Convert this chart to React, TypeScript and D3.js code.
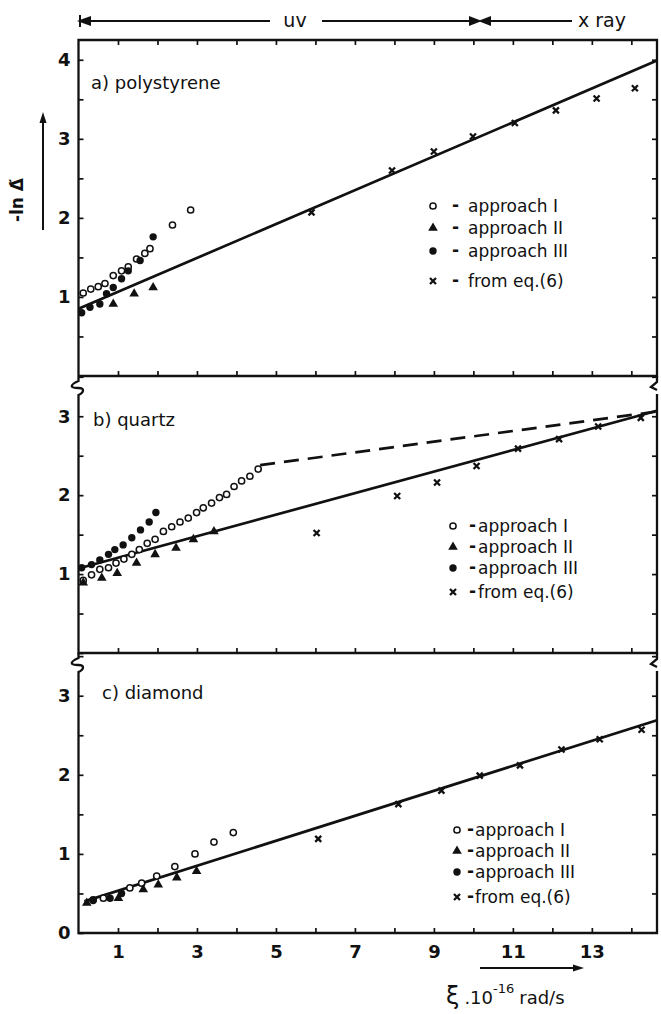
import React, { useEffect, useRef } from 'react';
import * as d3 from 'd3';

// values, pairs of [xi (10^16 rad/s), -ln delta]
const polyApproach1 = [[0.12, 1.05], [0.31, 1.1], [0.5, 1.13], [0.67, 1.17], [0.88, 1.27], [1.09, 1.33], [1.26, 1.38], [1.47, 1.48], [1.68, 1.55], [1.81, 1.61], [2.38, 1.91], [2.84, 2.1]];
const polyApproach2 = [[0.88, 0.91], [1.41, 1.04], [1.89, 1.12]];
const polyApproach3 = [[0.08, 0.8], [0.29, 0.87], [0.54, 0.91], [0.71, 1.04], [0.88, 1.12], [1.09, 1.23], [1.26, 1.33], [1.56, 1.46], [1.89, 1.76]];
const polyEq6 = [[5.9, 2.07], [7.94, 2.6], [9.0, 2.84], [9.99, 3.03], [11.05, 3.2], [12.09, 3.36], [13.12, 3.51], [14.09, 3.64]];
const polyFit = [[0, 0.85], [14.65, 3.99]];

const quartzApproach1 = [[0.12, 0.92], [0.33, 0.99], [0.54, 1.06], [0.76, 1.08], [0.95, 1.14], [1.15, 1.19], [1.35, 1.25], [1.54, 1.31], [1.74, 1.39], [1.94, 1.44], [2.15, 1.54], [2.36, 1.6], [2.57, 1.66], [2.78, 1.71], [2.99, 1.78], [3.16, 1.84], [3.37, 1.9], [3.57, 1.97], [3.75, 2.01], [3.94, 2.11], [4.13, 2.18], [4.34, 2.24], [4.55, 2.33]];
const quartzApproach2 = [[0.12, 0.89], [0.59, 0.95], [0.98, 1.01], [1.47, 1.14], [1.94, 1.25], [2.47, 1.33], [2.91, 1.44], [3.43, 1.54]];
const quartzApproach3 = [[0.08, 1.08], [0.33, 1.12], [0.54, 1.18], [0.76, 1.25], [0.92, 1.31], [1.13, 1.37], [1.35, 1.46], [1.57, 1.56], [1.79, 1.66], [1.96, 1.78]];
const quartzEq6 = [[6.03, 1.52], [8.07, 1.99], [9.08, 2.16], [10.08, 2.37], [11.13, 2.59], [12.17, 2.71], [13.16, 2.87], [14.24, 2.98]];
const quartzFit = [[0, 1.07], [14.65, 3.07]];
const quartzDashed = [[4.6, 2.38], [14.65, 3.06]];

const diamondApproach1 = [[0.37, 0.42], [0.63, 0.44], [1.3, 0.57], [1.6, 0.63], [1.98, 0.72], [2.44, 0.84], [2.95, 1.0], [3.43, 1.15], [3.92, 1.27]];
const diamondApproach2 = [[0.21, 0.38], [1.01, 0.44], [1.64, 0.55], [2.02, 0.61], [2.49, 0.7], [2.99, 0.78]];
const diamondApproach3 = [[0.37, 0.41], [0.8, 0.44], [1.09, 0.5]];
const diamondEq6 = [[6.07, 1.19], [8.1, 1.63], [9.19, 1.8], [10.16, 1.99], [11.18, 2.12], [12.23, 2.32], [13.2, 2.45], [14.26, 2.57]];
const diamondFit = [[0.15, 0.4], [14.65, 2.69]];

const legendLabels = ['approach I', 'approach II', 'approach III', 'from eq.(6)'];
const xTickLabels = [1, 3, 5, 7, 9, 11, 13];

const FONT = '"DejaVu Sans", sans-serif';

export default function App() {
  const ref = useRef<SVGSVGElement>(null);

  useEffect(() => {
    const svg = d3.select(ref.current);
    svg.selectAll('*').remove();

    const x = d3.scaleLinear().domain([0, 14.65]).range([78.5, 657]);
    const line = d3.line<number[]>().x(d => x(d[0]));

    const panels = [
      { title: 'a) polystyrene', tx: 91, ty: 89, top: 40, bottom: 376, yMax: 4.25, yLabels: [1, 2, 3, 4],
        a1: polyApproach1, a2: polyApproach2, a3: polyApproach3, eq: polyEq6, fit: polyFit, dashed: null,
        leg: { sx: 433, dx: 452, lx: 468, rows: [206, 228, 251, 281] } },
      { title: 'b) quartz', tx: 93, ty: 426, top: 376, bottom: 653, yMax: 3.51, yLabels: [1, 2, 3],
        a1: quartzApproach1, a2: quartzApproach2, a3: quartzApproach3, eq: quartzEq6, fit: quartzFit, dashed: quartzDashed,
        leg: { sx: 453, dx: 469, lx: 478, rows: [526, 547, 568, 592] } },
      { title: 'c) diamond', tx: 102, ty: 699, top: 653, bottom: 933, yMax: 3.54, yLabels: [0, 1, 2, 3],
        a1: diamondApproach1, a2: diamondApproach2, a3: diamondApproach3, eq: diamondEq6, fit: diamondFit, dashed: null,
        leg: { sx: 457, dx: 467, lx: 475, rows: [830, 851, 872, 897] } },
    ];

    const drawMarker = (g: any, kind: number, cx: number, cy: number) => {
      if (kind === 0) {
        g.append('circle').attr('cx', cx).attr('cy', cy).attr('r', 3.1)
          .attr('fill', '#fff').attr('stroke', '#111').attr('stroke-width', 1.5);
      } else if (kind === 1) {
        g.append('path').attr('d', d3.symbol(d3.symbolTriangle, 40)())
          .attr('transform', `translate(${cx},${cy})`).attr('fill', '#111');
      } else if (kind === 2) {
        g.append('circle').attr('cx', cx).attr('cy', cy).attr('r', 3.7).attr('fill', '#111');
      } else {
        g.append('path').attr('d', `M${cx - 3},${cy - 3}L${cx + 3},${cy + 3}M${cx + 3},${cy - 3}L${cx - 3},${cy + 3}`)
          .attr('stroke', '#111').attr('stroke-width', 2.3);
      }
    };

    panels.forEach((p, i) => {
      const y = d3.scaleLinear().domain([0, p.yMax]).range([p.bottom, p.top]);
      const g = svg.append('g');
      const half = d3.range(0, p.yMax, 0.5);

      // left axis, labels on whole numbers only
      g.append('g').attr('transform', `translate(${x(0)},0)`)
        .call(d3.axisLeft(y).tickValues(half).tickSizeInner(-5).tickSizeOuter(0).tickPadding(8)
          .tickFormat((d: any) => (p.yLabels.includes(d) ? String(d) : '')))
        .call(s => s.select('.domain').remove())
        .call(s => s.selectAll('text').attr('font-family', FONT).attr('font-size', 18).attr('font-weight', 'bold').attr('fill', '#111'))
        .call(s => s.selectAll('line').attr('stroke', '#111').attr('stroke-width', 1.7));

      g.append('g').attr('transform', `translate(${x(14.65)},0)`)
        .call(d3.axisRight(y).tickValues(half.filter(v => v > 0)).tickSize(-5).tickFormat(() => ''))
        .call(s => s.select('.domain').remove())
        .call(s => s.selectAll('line').attr('stroke', '#111').attr('stroke-width', 1.7));

      g.append('g').attr('transform', `translate(0,${p.bottom})`)
        .call(d3.axisBottom(x).tickValues(d3.range(1, 15)).tickSizeInner(-5).tickSizeOuter(0).tickPadding(12)
          .tickFormat((d: any) => (i === 2 && xTickLabels.includes(d) ? String(d) : '')))
        .call(s => s.select('.domain').remove())
        .call(s => s.selectAll('text').attr('font-family', FONT).attr('font-size', 18).attr('font-weight', 'bold').attr('fill', '#111'))
        .call(s => s.selectAll('line').attr('stroke', '#111').attr('stroke-width', 1.7));

      if (i === 0) {
        g.append('g').attr('transform', `translate(0,${p.top})`)
          .call(d3.axisTop(x).tickValues(d3.range(1, 15)).tickSize(-5).tickFormat(() => ''))
          .call(s => s.select('.domain').remove())
          .call(s => s.selectAll('line').attr('stroke', '#111').attr('stroke-width', 1.7));
      }

      // frame with break marks
      const L = x(0), R = x(14.65);
      let frame;
      if (i === 0) {
        frame = `M${L},${p.bottom}V${p.top}H${R}V${p.bottom}H${L}`;
      } else {
        const t = p.top;
        frame = `M${L},${t}V${t + 5}C${L - 9},${t + 9} ${L - 9},${t + 12} ${L},${t + 12}C${L + 6},${t + 12} ${L + 6},${t + 16} ${L},${t + 19}V${p.bottom}H${R}V${t + 18}` +
          `M${R},${t}V${t + 6}L${R - 6},${t + 11}L${R},${t + 14}`;
      }
      g.append('path').attr('d', frame).attr('fill', 'none').attr('stroke', '#111').attr('stroke-width', 2.3);

      g.append('text').attr('x', p.tx).attr('y', p.ty).text(p.title)
        .attr('font-family', FONT).attr('font-size', 18).attr('fill', '#111');

      // fitted lines
      line.y(d => y(d[1]));
      g.append('path').attr('d', line(p.fit)).attr('fill', 'none').attr('stroke', '#111').attr('stroke-width', 2.7);
      if (p.dashed) {
        g.append('path').attr('d', line(p.dashed)).attr('fill', 'none').attr('stroke', '#111')
          .attr('stroke-width', 2.7).attr('stroke-dasharray', '15,9');
      }

      [p.a1, p.a2, p.a3, p.eq].forEach((series, k) => {
        series.forEach(d => drawMarker(g, k, x(d[0]), y(d[1])));
      });

      // legend
      p.leg.rows.forEach((ry, k) => {
        drawMarker(g, k, p.leg.sx, ry);
        g.append('text').attr('x', p.leg.dx).attr('y', ry + 5).text('-')
          .attr('font-family', FONT).attr('font-size', 17).attr('font-weight', 'bold').attr('fill', '#111');
        g.append('text').attr('x', p.leg.lx).attr('y', ry + 6).text(legendLabels[k])
          .attr('font-family', FONT).attr('font-size', 17).attr('fill', '#111');
      });
    });

    // header: uv / x ray ranges
    const hy = 21;
    const head = svg.append('g').attr('stroke', '#111').attr('stroke-width', 2).attr('fill', '#111');
    head.append('path').attr('d', `M80,${hy - 6}V${hy + 6}M80,${hy}H270M322,${hy}H474M486,${hy}H572`).attr('fill', 'none');
    head.append('path').attr('d', `M80,${hy}L90,${hy - 3.5}L90,${hy + 3.5}Z`);
    head.append('path').attr('d', `M479,${hy}L470,${hy - 3.5}L470,${hy + 3.5}Z`);
    head.append('path').attr('d', `M481,${hy}L490,${hy - 3.5}L490,${hy + 3.5}Z`);
    svg.append('text').attr('x', 295).attr('y', 27).attr('text-anchor', 'middle').text('uv')
      .attr('font-family', FONT).attr('font-size', 19).attr('fill', '#111');
    svg.append('text').attr('x', 578).attr('y', 27).text('x ray')
      .attr('font-family', FONT).attr('font-size', 19).attr('fill', '#111');

    // y title with arrow
    svg.append('text').attr('transform', 'translate(23,200) rotate(-90)').attr('text-anchor', 'middle')
      .text('-ln \u0394\u0303').attr('font-family', FONT).attr('font-size', 17).attr('font-weight', 'bold').attr('fill', '#111');
    svg.append('path').attr('d', 'M43,230V120').attr('stroke', '#111').attr('stroke-width', 2);
    svg.append('path').attr('d', 'M43,112L39.5,123L46.5,123Z').attr('fill', '#111');

    // x title with arrow
    svg.append('path').attr('d', 'M480,968H576').attr('stroke', '#111').attr('stroke-width', 2);
    svg.append('path').attr('d', 'M584,968L573,964.5L573,971.5Z').attr('fill', '#111');
    const xt = svg.append('text').attr('x', 446).attr('y', 1004).attr('font-family', FONT).attr('fill', '#111');
    xt.append('tspan').attr('font-size', 24).text('\u03BE');
    xt.append('tspan').attr('font-size', 18).attr('dx', 5).text('.10');
    xt.append('tspan').attr('font-size', 13).attr('dy', -11).text('-16');
    xt.append('tspan').attr('font-size', 18).attr('dy', 11).attr('dx', 5).text('rad/s');
  }, []);

  return (
    <svg ref={ref} width={661} height={1014}
      style={{ position: 'absolute', left: 0, top: 0, background: '#fff', display: 'block' }} />
  );
}
